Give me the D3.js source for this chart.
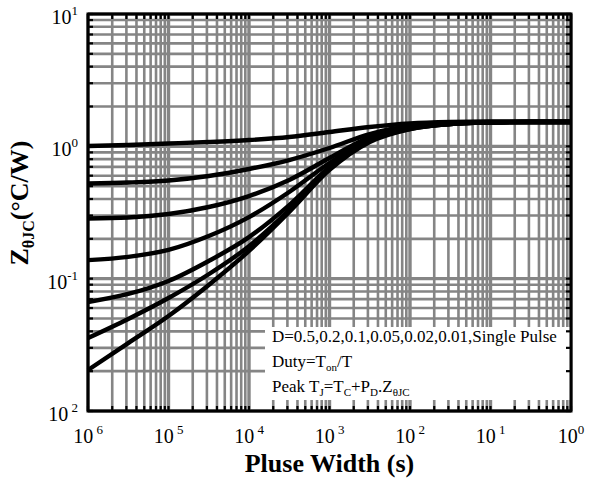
<!DOCTYPE html>
<html>
<head>
<meta charset="utf-8">
<style>
    body { margin: 0; background: #fff; }
</style>
</head>
<body>
<svg width="590" height="482"></svg>

<script src="https://d3js.org/d3.v7.min.js"></script>
<script>
    let pulseWidth = [1e-6, 3.16e-6, 1e-5, 3.16e-5, 1e-4, 3.16e-4, 1e-3, 3.16e-3, 1e-2, 3.16e-2, 1e-1, 3.16e-1, 1];

    // Z thetaJC (C/W) for each duty cycle
    let d050 = [1.006, 1.023, 1.050, 1.078, 1.116, 1.176, 1.283, 1.400, 1.488, 1.527, 1.540, 1.540, 1.540];
    let d020 = [0.524, 0.533, 0.552, 0.597, 0.674, 0.788, 0.971, 1.239, 1.424, 1.501, 1.527, 1.527, 1.527];
    let d010 = [0.285, 0.290, 0.308, 0.348, 0.421, 0.557, 0.816, 1.176, 1.400, 1.488, 1.514, 1.527, 1.527];
    let d005 = [0.138, 0.146, 0.165, 0.210, 0.292, 0.452, 0.748, 1.136, 1.376, 1.475, 1.514, 1.527, 1.527];
    let d002 = [0.0666, 0.0766, 0.0960, 0.136, 0.206, 0.360, 0.698, 1.116, 1.364, 1.475, 1.514, 1.527, 1.527];
    let d001 = [0.0356, 0.0496, 0.0714, 0.108, 0.176, 0.330, 0.674, 1.097, 1.352, 1.475, 1.514, 1.527, 1.527];
    let single = [0.0204, 0.0326, 0.0522, 0.0896, 0.162, 0.319, 0.663, 1.078, 1.352, 1.475, 1.514, 1.527, 1.527];

    // tick labels (the scan lost the minus signs)
    let xTickVals = [1e-6, 1e-5, 1e-4, 1e-3, 1e-2, 1e-1, 1];
    let xTickExp = [" 6", " 5", " 4", " 3", " 2", " 1", "0"];
    let yTickVals = [1e-2, 1e-1, 1, 10];
    let yTickExp = [" 2", "-1", "0", "1"];

    let svg = d3.select("svg");

    let pl = 88, pr = 571, pt = 14, pb = 411;

    let x = d3.scaleLog().domain([1e-6, 1]).range([pl, pr]);
    let y = d3.scaleLog().domain([1e-2, 10]).range([pb, pt]);

    let xMinor = x.ticks();
    let yMinor = y.ticks();
    let isDecade = v => Math.abs(Math.log10(v) - Math.round(Math.log10(v))) < 1e-6;

    // grid
    svg.append("g")
        .selectAll("line")
        .data(xMinor)
        .join("line")
        .attr("x1", d => x(d))
        .attr("x2", d => x(d))
        .attr("y1", pt)
        .attr("y2", pb)
        .style("stroke", "#858585")
        .style("stroke-width", d => isDecade(d) ? 3.4 : 2.6);

    svg.append("g")
        .selectAll("line")
        .data(yMinor)
        .join("line")
        .attr("x1", pl)
        .attr("x2", pr)
        .attr("y1", d => y(d))
        .attr("y2", d => y(d))
        .style("stroke", "#858585")
        .style("stroke-width", d => isDecade(d) ? 3.4 : 2.6);

    // legend box hides the grid
    svg.append("rect")
        .attr("x", 265)
        .attr("y", 327)
        .attr("width", pr - 265)
        .attr("height", 73)
        .style("fill", "white");

    // inward ticks on all four sides
    let tickLen = 5;
    let ticks = svg.append("g").style("stroke", "black").style("stroke-width", 2.2);
    ticks.selectAll(".tb").data(xMinor).join("line")
        .attr("x1", d => x(d)).attr("x2", d => x(d))
        .attr("y1", pb).attr("y2", pb - tickLen);
    ticks.selectAll(".tt").data(xMinor).join("line")
        .attr("x1", d => x(d)).attr("x2", d => x(d))
        .attr("y1", pt).attr("y2", pt + tickLen);
    ticks.selectAll(".tl").data(yMinor).join("line")
        .attr("x1", pl).attr("x2", pl + tickLen)
        .attr("y1", d => y(d)).attr("y2", d => y(d));
    ticks.selectAll(".tr").data(yMinor).join("line")
        .attr("x1", pr).attr("x2", pr - tickLen)
        .attr("y1", d => y(d)).attr("y2", d => y(d));

    // frame
    svg.append("rect")
        .attr("x", pl)
        .attr("y", pt)
        .attr("width", pr - pl)
        .attr("height", pb - pt)
        .style("fill", "none")
        .style("stroke", "black")
        .style("stroke-width", 3);

    // curves
    let series = [d050, d020, d010, d005, d002, d001, single];
    let line = d3.line()
        .x((d, i) => x(pulseWidth[i]))
        .y(d => y(d))
        .curve(d3.curveMonotoneX);

    svg.append("g")
        .selectAll("path")
        .data(series)
        .join("path")
        .attr("d", line)
        .style("fill", "none")
        .style("stroke", "black")
        .style("stroke-width", 4.4)
        .style("stroke-linejoin", "round");

    // every label goes in here so the serif face is set once on the group
    let labels = svg.append("g")
        .attr("font-family", "Times New Roman")
        .style("font-family", "'Liberation Serif', 'Times New Roman', serif");

    // x tick labels
    let xl = labels.append("g")
        .selectAll("text")
        .data(xTickVals)
        .join("text")
        .style("white-space", "pre")
        .attr("x", d => x(d))
        .attr("y", 443)
        .attr("text-anchor", "middle")
        .attr("font-size", 20);
    xl.append("tspan").text("10");
    xl.append("tspan")
        .attr("dy", -9)
        .attr("font-size", 13)
        .text((d, i) => xTickExp[i]);

    // y tick labels
    let yl = labels.append("g")
        .selectAll("text")
        .data(yTickVals)
        .join("text")
        .style("white-space", "pre")
        .attr("x", 78)
        .attr("y", d => y(d) + 10)
        .attr("text-anchor", "end")
        .attr("font-size", 20);
    yl.append("tspan").text("10");
    yl.append("tspan")
        .attr("dy", -9)
        .attr("font-size", 13)
        .text((d, i) => yTickExp[i]);

    // axis titles
    labels.append("text")
        .attr("x", (pl + pr) / 2)
        .attr("y", 472)
        .attr("text-anchor", "middle")
        .attr("font-size", 26)
        .attr("font-weight", "bold")
        .text("Pluse Width (s)");

    let yt = labels.append("text")
        .attr("transform", "translate(28,203) rotate(-90)")
        .attr("text-anchor", "middle")
        .attr("font-size", 26)
        .attr("font-weight", "bold");
    yt.append("tspan").text("Z");
    yt.append("tspan").attr("dy", 6).attr("font-size", 16).text("θJC");
    yt.append("tspan").attr("dy", -6).text("(°C/W)");

    // legend notes
    let notes = labels.append("g").attr("font-size", 17);
    notes.append("text")
        .attr("x", 272).attr("y", 342)
        .text("D=0.5,0.2,0.1,0.05,0.02,0.01,Single Pulse");

    let n2 = notes.append("text").attr("x", 272).attr("y", 367);
    n2.append("tspan").text("Duty=T");
    n2.append("tspan").attr("dy", 4).attr("font-size", 11).text("on");
    n2.append("tspan").attr("dy", -4).text("/T");

    let n3 = notes.append("text").attr("x", 272).attr("y", 392);
    n3.append("tspan").text("Peak T");
    n3.append("tspan").attr("dy", 4).attr("font-size", 11).text("J");
    n3.append("tspan").attr("dy", -4).text("=T");
    n3.append("tspan").attr("dy", 4).attr("font-size", 11).text("C");
    n3.append("tspan").attr("dy", -4).text("+P");
    n3.append("tspan").attr("dy", 4).attr("font-size", 11).text("D");
    n3.append("tspan").attr("dy", -4).text(".Z");
    n3.append("tspan").attr("dy", 4).attr("font-size", 11).text("θJC");
</script>
</body>
</html>
